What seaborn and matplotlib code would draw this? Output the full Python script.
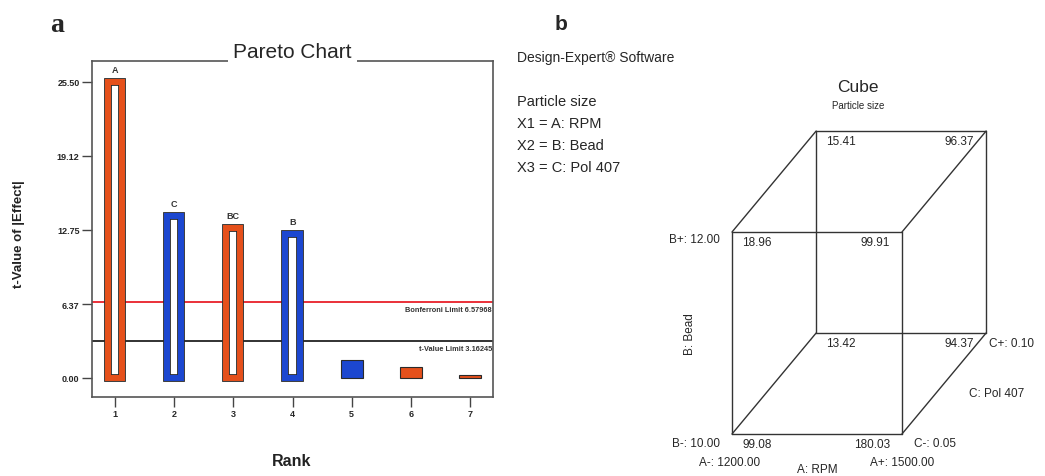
import matplotlib
matplotlib.use("Agg")
import matplotlib.pyplot as plt
import seaborn as sns
import pandas as pd

sns.set_style("ticks")
plt.rcParams['font.family'] = ['Liberation Sans', 'DejaVu Sans']

# ---- panel a: Pareto chart data ----
ranks = ["1", "2", "3", "4", "5", "6", "7"]
t_values = [25.50, 13.95, 12.95, 12.40, 1.55, 0.95, 0.28]
effect_names = ["A", "C", "BC", "B", "", "", ""]
effect_sign = ["+", "-", "+", "-", "-", "+", "+"]
y_ticks = [0.00, 6.37, 12.75, 19.12, 25.50]
bonferroni_limit = 6.57968
t_limit = 3.16245

# ---- panel b: cube data ----
factor_lines = ["Particle size", "X1 = A: RPM", "X2 = B: Bead", "X3 = C: Pol 407"]
corner_A = [-1, 1, -1, 1, -1, 1, -1, 1]
corner_B = [-1, -1, 1, 1, -1, -1, 1, 1]
corner_C = [-1, -1, -1, -1, 1, 1, 1, 1]
corner_vals = [99.08, 180.03, 18.96, 99.91, 13.42, 94.37, 15.41, 96.37]
A_levels = ["1200.00", "1500.00"]
B_levels = ["10.00", "12.00"]
C_levels = ["0.05", "0.10"]

orange = "#E5501B"
blue = "#1C47D0"
dark = "#2a2a2a"
pal = {"+": orange, "-": blue}

df = pd.DataFrame({"rank": ranks, "t": t_values, "name": effect_names, "sign": effect_sign})
big = df[df["t"] > t_limit]
small = df[df["t"] <= t_limit]

fig = plt.figure(figsize=(10.45, 4.77), dpi=100)
ax = fig.add_axes([92 / 1045, 1 - 398 / 477, 401 / 1045, 336 / 477])

# hollow bars for the significant effects (dark outline + coloured band)
sns.barplot(data=big, x="rank", y="t", order=ranks, color="white", edgecolor=dark,
            linewidth=5.6, width=0.24, errorbar=None, ax=ax)
sns.barplot(data=big, x="rank", y="t", hue="sign", palette=pal, order=ranks, fill=False,
            linewidth=4.3, width=0.24, errorbar=None, legend=False, ax=ax)
# filled bars for small effects
sns.barplot(data=small, x="rank", y="t", hue="sign", palette=pal, order=ranks, edgecolor=dark,
            linewidth=0.8, width=0.37, errorbar=None, legend=False, saturation=1, ax=ax)
for p in ax.patches:
    p.set_joinstyle("miter")

ax.axhline(bonferroni_limit, color="#e8202a", lw=1.3, zorder=0.8)
ax.axhline(t_limit, color="#222222", lw=1.3, zorder=0.8)
ax.text(6.37, bonferroni_limit - 0.35, "Bonferroni Limit %.5f" % bonferroni_limit, ha="right", va="top",
        fontsize=5.3, fontweight="bold", color="#333")
ax.text(6.37, t_limit - 0.35, "t-Value Limit %.5f" % t_limit, ha="right", va="top",
        fontsize=5.3, fontweight="bold", color="#333")

for i, (v, nm) in enumerate(zip(t_values, effect_names)):
    if nm:
        ax.annotate(nm, (i, v), xytext=(0, 9), textcoords="offset points", ha="center", va="center",
                    fontsize=6.5, fontweight="bold", color="#333")

ax.set_xlim(-0.39, 6.39)
ax.set_ylim(-1.64, 27.3)
ax.set_yticks(y_ticks)
ax.set_yticklabels(["%.2f" % v for v in y_ticks])
ax.set_xlabel("")
ax.set_ylabel("")
ax.tick_params(axis="both", length=7, width=1, color="#444", labelsize=6.5, pad=2)
for lab in ax.get_xticklabels() + ax.get_yticklabels():
    lab.set_fontweight("bold")
for s in ax.spines.values():
    s.set_visible(True)
    s.set_color("#555")
    s.set_linewidth(1.2)
ax.text(0.5, 1.0, "Pareto Chart", transform=ax.transAxes, ha="center", va="bottom", fontsize=15,
        bbox=dict(boxstyle="square,pad=0.25", facecolor="white", edgecolor="none"), zorder=5, clip_on=False)

fig.text(19 / 1045, 1 - 234 / 477, "t-Value of |Effect|", rotation=90, ha="center", va="center",
         fontsize=9.5, fontweight="bold", color="#222")
fig.text(292 / 1045, 1 - 462 / 477, "Rank", ha="center", va="center", fontsize=11.5,
         fontweight="bold", color="#222")
fig.text(57 / 1045, 1 - 25 / 477, "a", ha="center", va="center", fontsize=20, fontweight="bold",
         family="Liberation Serif")
fig.text(561 / 1045, 1 - 25 / 477, "b", ha="center", va="center", fontsize=15, fontweight="bold")

# ---- panel b text ----
fig.text(517 / 1045, 1 - 58 / 477, "Design-Expert® Software", ha="left", va="center", fontsize=10)
for k, line in enumerate(factor_lines):
    fig.text(517 / 1045, 1 - (102 + 22 * k) / 477, line, ha="left", va="center", fontsize=10.5)
fig.text(858 / 1045, 1 - 88 / 477, "Cube", ha="center", va="center", fontsize=12.5)
fig.text(858 / 1045, 1 - 106 / 477, "Particle size", ha="center", va="center", fontsize=7)

# ---- cube ----
cx = fig.add_axes([620 / 1045, 0, 420 / 1045, 417 / 477])
cx.set_xlim(-2.318, 2.624)
cx.set_ylim(-1.416, 2.713)
cx.axis("off")
depth_x, depth_y = 0.99, 1.0


def proj(a, b, c):
    return a + depth_x * (c + 1) / 2, b + depth_y * (c + 1) / 2


pts = [proj(a, b, c) for a, b, c in zip(corner_A, corner_B, corner_C)]
for i in range(8):
    for j in range(i + 1, 8):
        diff = (corner_A[i] != corner_A[j]) + (corner_B[i] != corner_B[j]) + (corner_C[i] != corner_C[j])
        if diff == 1:
            cx.plot([pts[i][0], pts[j][0]], [pts[i][1], pts[j][1]], color="#333", lw=1.0)

for (x, y), a, v in zip(pts, corner_A, corner_vals):
    off = (7.2, -7.5) if a < 0 else (-8.6, -7.5)
    cx.annotate("%.2f" % v, (x, y), xytext=off, textcoords="offset points",
                ha="left" if a < 0 else "right", va="center", fontsize=8.5)

fs = 8.5
x0, y0 = proj(-1, 1, -1)
cx.annotate("B+: " + B_levels[1], (x0, y0), xytext=(-8.6, -5), textcoords="offset points", ha="right", va="center", fontsize=fs)
x0, y0 = proj(-1, -1, -1)
cx.annotate("B-: " + B_levels[0], (x0, y0), xytext=(-8.6, -6.5), textcoords="offset points", ha="right", va="center", fontsize=fs)
cx.annotate("A-: " + A_levels[0], (x0, y0), xytext=(-1.5, -20), textcoords="offset points", ha="center", va="center", fontsize=fs)
x0, y0 = proj(1, -1, -1)
cx.annotate("A+: " + A_levels[1], (x0, y0), xytext=(0, -20), textcoords="offset points", ha="center", va="center", fontsize=fs)
cx.annotate("C-: " + C_levels[0], (x0, y0), xytext=(9, -6.5), textcoords="offset points", ha="left", va="center", fontsize=fs)
x0, y0 = proj(1, -1, 1)
cx.annotate("C+: " + C_levels[1], (x0, y0), xytext=(2.2, -7), textcoords="offset points", ha="left", va="center", fontsize=fs)
x0, y0 = proj(1, -1, 0)
cx.annotate("C: Pol 407", (x0, y0), xytext=(18, -7), textcoords="offset points", ha="left", va="center", fontsize=fs)
x0, y0 = proj(0, -1, -1)
cx.annotate("A: RPM", (x0, y0), xytext=(0, -25), textcoords="offset points", ha="center", va="center", fontsize=fs)
x0, y0 = proj(-1, 0, -1)
cx.annotate("B: Bead", (x0, y0), xytext=(-30, 0), textcoords="offset points", ha="center", va="center",
            fontsize=fs, rotation=90)

fig.savefig("out.png", dpi=100)
